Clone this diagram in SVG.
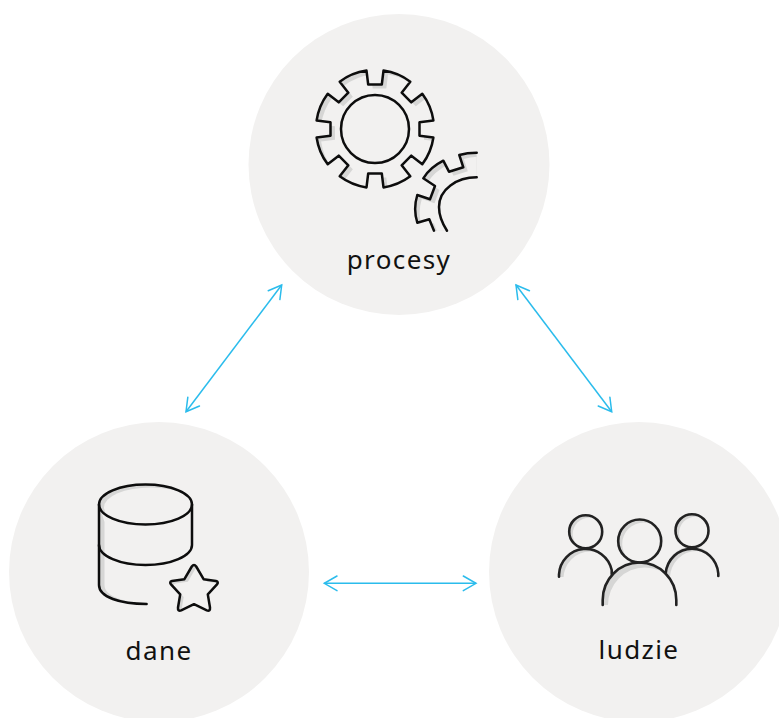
<svg xmlns="http://www.w3.org/2000/svg" width="779" height="718" viewBox="0 0 779 718">
<style>
.bg{fill:#f2f1f0}
.ink{fill:none;stroke:#0d0d0d;stroke-width:2.5;stroke-linecap:round;stroke-linejoin:round}
.ink2{fill:none;stroke:#222;stroke-width:2.6;stroke-linecap:round;stroke-linejoin:round}
.shade{fill:#d6d6d5}
.lbl{font-family:"Noto Sans","Open Sans",sans-serif;font-size:26px;letter-spacing:1.4px;fill:#111;text-anchor:middle}
.conn{fill:none;stroke:#2bbcec;stroke-width:1.5;marker-start:url(#arrow);marker-end:url(#arrow)}
</style>
<defs>
<marker id="arrow" markerUnits="userSpaceOnUse" markerWidth="20" markerHeight="20" refX="15" refY="10" orient="auto-start-reverse">
<path d="M2.3 2.7L15 10L2.3 17.3" fill="none" stroke="#2bbcec" stroke-width="1.5" stroke-linecap="round" stroke-linejoin="miter"/>
</marker>
<path id="gearA" d="M366.5 70.6L368.2 84.5H381.8L383.5 70.6A59 59 0 0 1 410.3 81.7L401.66 92.72L411.28 102.34L422.3 93.7A59 59 0 0 1 433.4 120.5L419.5 122.2V135.8L433.4 137.5A59 59 0 0 1 422.3 164.3L411.28 155.66L401.66 165.28L410.3 176.3A59 59 0 0 1 383.5 187.4L381.8 173.5H368.2L366.5 187.4A59 59 0 0 1 339.7 176.3L348.34 165.28L338.72 155.66L327.7 164.3A59 59 0 0 1 316.6 137.5L330.5 135.8V122.2L316.6 120.5A59 59 0 0 1 327.7 93.7L338.72 102.34L348.34 92.72L339.7 81.7A59 59 0 0 1 366.5 70.6Z"/>
<path id="gearB" d="M476.7 152.7Q467 152.7 459.3 155L463.3 167.3L449 171.7L443.3 160.7Q430 167.5 423.3 178.3L435 186L430 199.3L417.3 195Q413 209 417.3 222.7L429.3 219.3L434 230.7L447 230.7C442 223 439 216 439 207C439 189 457 177.3 476.7 177.3Z"/>
<path id="star" d="M191.8 566.5Q194 563.5 196.2 566.5L203.6 579.2L216 581Q219 581.8 217 584.4L207.8 594.4L210 607.5Q210.4 611.5 206.8 610.4L194 604.2L181.2 610.4Q177.6 611.5 178 607.5L180.2 594.4L171 584.4Q169 581.8 172 581L184.4 579.2Z"/>
<clipPath id="cA"><use href="#gearA"/></clipPath>
<clipPath id="cB"><use href="#gearB"/></clipPath>
<clipPath id="cS"><use href="#star"/></clipPath>
<clipPath id="cE"><ellipse cx="145.5" cy="504.5" rx="46.5" ry="20"/></clipPath>
<clipPath id="cH1"><circle cx="585.7" cy="531.7" r="16.5"/></clipPath>
<clipPath id="cH2"><circle cx="639.7" cy="541" r="21.5"/></clipPath>
<clipPath id="cH3"><circle cx="692" cy="530.7" r="16.5"/></clipPath>
<clipPath id="cB1"><path d="M559 577V574.5A26.7 27 0 0 1 612.4 574.5V577Z"/></clipPath>
<clipPath id="cB2"><path d="M602.7 605V600A36.8 37.5 0 0 1 676.3 600V605Z"/></clipPath>
<clipPath id="cB3"><path d="M665.5 576V573.5A26.4 27 0 0 1 718.3 573.5V576Z"/></clipPath>
</defs>

<g id="node-procesy">
<circle class="bg" cx="399" cy="164.5" r="150.5"/>
<use href="#gearA" class="shade"/>
<g clip-path="url(#cA)"><use href="#gearA" class="bg" transform="translate(4.5 4)"/></g>
<use href="#gearB" class="shade"/>
<g clip-path="url(#cB)"><use href="#gearB" class="bg" transform="translate(4.5 4)"/></g>
<use href="#gearA" class="ink"/>
<circle class="ink" cx="375" cy="129" r="34"/>
<path class="ink" d="M476.7 152.7Q467 152.7 459.3 155L463.3 167.3L449 171.7L443.3 160.7Q430 167.5 423.3 178.3L435 186L430 199.3L417.3 195Q413 209 417.3 222.7L429.3 219.3L434 230.7"/>
<path class="ink" d="M476.7 177.3C457 177.3 439 189 439 207C439 216 442 223 447 230.7"/>
<text class="lbl" x="399" y="269">procesy</text>
</g>

<g id="node-dane">
<circle class="bg" cx="159" cy="572" r="150"/>
<path class="shade" d="M99 505V585C99 597 120 604 146.6 604C125 602 104.5 597 104.5 585V522Z"/>
<ellipse class="shade" cx="145.5" cy="504.5" rx="46.5" ry="20"/>
<g clip-path="url(#cE)"><ellipse class="bg" cx="150.5" cy="507.5" rx="46.5" ry="20"/></g>
<ellipse class="ink" cx="145.5" cy="504.5" rx="46.5" ry="20"/>
<path class="ink" d="M192 504.5V545C192 556 171 565 145.5 565C120 565 99 556 99 545"/>
<path class="ink" d="M99 504.5V585C99 597 120 604 146.6 604"/>
<use href="#star" class="shade"/>
<g clip-path="url(#cS)"><use href="#star" class="bg" transform="translate(3.5 2.5)"/></g>
<use href="#star" class="ink"/>
<text class="lbl" x="159" y="660">dane</text>
</g>

<g id="node-ludzie">
<circle class="bg" cx="639" cy="572" r="150"/>
<path class="shade" d="M559 577V574.5A26.7 27 0 0 1 612.4 574.5V577Z"/>
<g clip-path="url(#cB1)"><path class="bg" d="M563.5 582V578.5A26.7 27 0 0 1 616.9 578.5V582Z"/></g>
<circle class="shade" cx="585.7" cy="531.7" r="16.5"/>
<g clip-path="url(#cH1)"><circle class="bg" cx="589.2" cy="534.2" r="16.5"/></g>
<path class="shade" d="M665.5 576V573.5A26.4 27 0 0 1 718.3 573.5V576Z"/>
<g clip-path="url(#cB3)"><path class="bg" d="M670 582V578A26.4 27 0 0 1 722.8 578V582Z"/></g>
<circle class="shade" cx="692" cy="530.7" r="16.5"/>
<g clip-path="url(#cH3)"><circle class="bg" cx="695.5" cy="533.2" r="16.5"/></g>
<path class="bg" d="M602.7 605V600A36.8 37.5 0 0 1 676.3 600V605Z"/>
<path class="shade" d="M602.7 605V600A36.8 37.5 0 0 1 676.3 600V605Z"/>
<g clip-path="url(#cB2)"><path class="bg" d="M608 612V605A36.8 37.5 0 0 1 681.6 605V612Z"/></g>
<circle class="shade" cx="639.7" cy="541" r="21.5"/>
<g clip-path="url(#cH2)"><circle class="bg" cx="643.7" cy="544" r="21.5"/></g>
<circle class="ink2" cx="585.7" cy="531.7" r="16.5"/>
<path class="ink2" d="M559 576.7V574.5A26.7 27 0 0 1 611.7 570V574"/>
<circle class="ink2" cx="639.7" cy="541" r="21.5"/>
<path class="ink2" d="M602.7 605V600A36.8 37.5 0 0 1 676.3 600V605"/>
<circle class="ink2" cx="692" cy="530.7" r="16.5"/>
<path class="ink2" d="M665.7 573.3A26.4 27 0 0 1 718.3 573.5V576"/>
<text class="lbl" x="639" y="659">ludzie</text>
</g>

<g id="connectors">
<path class="conn" d="M281.7 285L186 411.7"/>
<path class="conn" d="M516 285L611.7 411.7"/>
<path class="conn" d="M324.3 583.3H476"/>
</g>
</svg>
